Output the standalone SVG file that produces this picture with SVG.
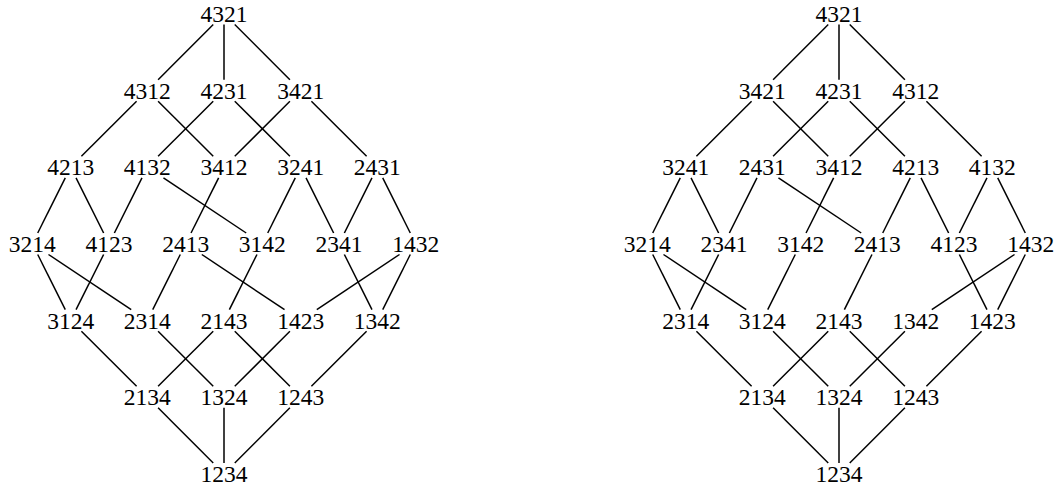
<svg xmlns="http://www.w3.org/2000/svg" width="1056" height="487" viewBox="0 0 1056 487">
<style>
.n text{font-family:"Liberation Serif","Times New Roman",serif;font-size:23.5px;fill:#000;text-anchor:middle}
.e line{stroke:#000;stroke-width:1.5;stroke-linecap:butt}
</style>
<rect width="1056" height="487" fill="#fff"/>
<g id="left">
<g id="left-connectors" class="e">
<line x1="213.25" y1="24.5" x2="158.08" y2="79.67"/>
<line x1="224" y1="24.5" x2="224" y2="79.67"/>
<line x1="234.75" y1="24.5" x2="289.92" y2="79.67"/>
<line x1="136.58" y1="101.17" x2="81.42" y2="156.33"/>
<line x1="158.08" y1="101.17" x2="213.25" y2="156.33"/>
<line x1="213.25" y1="101.17" x2="158.08" y2="156.33"/>
<line x1="234.75" y1="101.17" x2="289.92" y2="156.33"/>
<line x1="289.92" y1="101.17" x2="234.75" y2="156.33"/>
<line x1="311.42" y1="101.17" x2="366.58" y2="156.33"/>
<line x1="65.29" y1="177.83" x2="37.71" y2="233"/>
<line x1="76.04" y1="177.83" x2="103.63" y2="233"/>
<line x1="141.96" y1="177.83" x2="114.38" y2="233"/>
<line x1="163.46" y1="177.83" x2="246.21" y2="233"/>
<line x1="218.63" y1="177.83" x2="191.04" y2="233"/>
<line x1="295.29" y1="177.83" x2="267.71" y2="233"/>
<line x1="306.04" y1="177.83" x2="333.63" y2="233"/>
<line x1="371.96" y1="177.83" x2="344.38" y2="233"/>
<line x1="382.71" y1="177.83" x2="410.29" y2="233"/>
<line x1="37.71" y1="254.5" x2="65.29" y2="309.67"/>
<line x1="48.46" y1="254.5" x2="131.21" y2="309.67"/>
<line x1="103.63" y1="254.5" x2="76.04" y2="309.67"/>
<line x1="180.29" y1="254.5" x2="152.71" y2="309.67"/>
<line x1="201.79" y1="254.5" x2="284.54" y2="309.67"/>
<line x1="256.96" y1="254.5" x2="229.38" y2="309.67"/>
<line x1="344.38" y1="254.5" x2="371.96" y2="309.67"/>
<line x1="399.54" y1="254.5" x2="316.79" y2="309.67"/>
<line x1="410.29" y1="254.5" x2="382.71" y2="309.67"/>
<line x1="81.42" y1="331.17" x2="136.58" y2="386.33"/>
<line x1="158.08" y1="331.17" x2="213.25" y2="386.33"/>
<line x1="213.25" y1="331.17" x2="158.08" y2="386.33"/>
<line x1="234.75" y1="331.17" x2="289.92" y2="386.33"/>
<line x1="289.92" y1="331.17" x2="234.75" y2="386.33"/>
<line x1="366.58" y1="331.17" x2="311.42" y2="386.33"/>
<line x1="158.08" y1="407.83" x2="213.25" y2="463"/>
<line x1="224" y1="407.83" x2="224" y2="463"/>
<line x1="289.92" y1="407.83" x2="234.75" y2="463"/>
</g>
<g class="n">
<g id="L4321"><text x="224" y="22">4321</text></g>
<g id="L4312"><text x="147.33" y="98.67">4312</text></g>
<g id="L4231"><text x="224" y="98.67">4231</text></g>
<g id="L3421"><text x="300.67" y="98.67">3421</text></g>
<g id="L4213"><text x="70.67" y="175.33">4213</text></g>
<g id="L4132"><text x="147.33" y="175.33">4132</text></g>
<g id="L3412"><text x="224" y="175.33">3412</text></g>
<g id="L3241"><text x="300.67" y="175.33">3241</text></g>
<g id="L2431"><text x="377.33" y="175.33">2431</text></g>
<g id="L3214"><text x="32.33" y="252">3214</text></g>
<g id="L4123"><text x="109" y="252">4123</text></g>
<g id="L2413"><text x="185.67" y="252">2413</text></g>
<g id="L3142"><text x="262.33" y="252">3142</text></g>
<g id="L2341"><text x="339" y="252">2341</text></g>
<g id="L1432"><text x="415.67" y="252">1432</text></g>
<g id="L3124"><text x="70.67" y="328.67">3124</text></g>
<g id="L2314"><text x="147.33" y="328.67">2314</text></g>
<g id="L2143"><text x="224" y="328.67">2143</text></g>
<g id="L1423"><text x="300.67" y="328.67">1423</text></g>
<g id="L1342"><text x="377.33" y="328.67">1342</text></g>
<g id="L2134"><text x="147.33" y="405.33">2134</text></g>
<g id="L1324"><text x="224" y="405.33">1324</text></g>
<g id="L1243"><text x="300.67" y="405.33">1243</text></g>
<g id="L1234"><text x="224" y="482">1234</text></g>
</g>
</g>
<g id="right" transform="translate(615,0)">
<g id="right-connectors" class="e">
<line x1="213.25" y1="24.5" x2="158.08" y2="79.67"/>
<line x1="224" y1="24.5" x2="224" y2="79.67"/>
<line x1="234.75" y1="24.5" x2="289.92" y2="79.67"/>
<line x1="136.58" y1="101.17" x2="81.42" y2="156.33"/>
<line x1="158.08" y1="101.17" x2="213.25" y2="156.33"/>
<line x1="213.25" y1="101.17" x2="158.08" y2="156.33"/>
<line x1="234.75" y1="101.17" x2="289.92" y2="156.33"/>
<line x1="289.92" y1="101.17" x2="234.75" y2="156.33"/>
<line x1="311.42" y1="101.17" x2="366.58" y2="156.33"/>
<line x1="65.29" y1="177.83" x2="37.71" y2="233"/>
<line x1="76.04" y1="177.83" x2="103.63" y2="233"/>
<line x1="141.96" y1="177.83" x2="114.38" y2="233"/>
<line x1="163.46" y1="177.83" x2="246.21" y2="233"/>
<line x1="218.63" y1="177.83" x2="191.04" y2="233"/>
<line x1="295.29" y1="177.83" x2="267.71" y2="233"/>
<line x1="306.04" y1="177.83" x2="333.63" y2="233"/>
<line x1="371.96" y1="177.83" x2="344.38" y2="233"/>
<line x1="382.71" y1="177.83" x2="410.29" y2="233"/>
<line x1="37.71" y1="254.5" x2="65.29" y2="309.67"/>
<line x1="48.46" y1="254.5" x2="131.21" y2="309.67"/>
<line x1="103.63" y1="254.5" x2="76.04" y2="309.67"/>
<line x1="180.29" y1="254.5" x2="152.71" y2="309.67"/>
<line x1="256.96" y1="254.5" x2="229.38" y2="309.67"/>
<line x1="344.38" y1="254.5" x2="371.96" y2="309.67"/>
<line x1="399.54" y1="254.5" x2="316.79" y2="309.67"/>
<line x1="410.29" y1="254.5" x2="382.71" y2="309.67"/>
<line x1="81.42" y1="331.17" x2="136.58" y2="386.33"/>
<line x1="158.08" y1="331.17" x2="213.25" y2="386.33"/>
<line x1="213.25" y1="331.17" x2="158.08" y2="386.33"/>
<line x1="234.75" y1="331.17" x2="289.92" y2="386.33"/>
<line x1="289.92" y1="331.17" x2="234.75" y2="386.33"/>
<line x1="366.58" y1="331.17" x2="311.42" y2="386.33"/>
<line x1="158.08" y1="407.83" x2="213.25" y2="463"/>
<line x1="224" y1="407.83" x2="224" y2="463"/>
<line x1="289.92" y1="407.83" x2="234.75" y2="463"/>
</g>
<g class="n">
<g id="R4321"><text x="224" y="22">4321</text></g>
<g id="R3421"><text x="147.33" y="98.67">3421</text></g>
<g id="R4231"><text x="224" y="98.67">4231</text></g>
<g id="R4312"><text x="300.67" y="98.67">4312</text></g>
<g id="R3241"><text x="70.67" y="175.33">3241</text></g>
<g id="R2431"><text x="147.33" y="175.33">2431</text></g>
<g id="R3412"><text x="224" y="175.33">3412</text></g>
<g id="R4213"><text x="300.67" y="175.33">4213</text></g>
<g id="R4132"><text x="377.33" y="175.33">4132</text></g>
<g id="R3214"><text x="32.33" y="252">3214</text></g>
<g id="R2341"><text x="109" y="252">2341</text></g>
<g id="R3142"><text x="185.67" y="252">3142</text></g>
<g id="R2413"><text x="262.33" y="252">2413</text></g>
<g id="R4123"><text x="339" y="252">4123</text></g>
<g id="R1432"><text x="415.67" y="252">1432</text></g>
<g id="R2314"><text x="70.67" y="328.67">2314</text></g>
<g id="R3124"><text x="147.33" y="328.67">3124</text></g>
<g id="R2143"><text x="224" y="328.67">2143</text></g>
<g id="R1342"><text x="300.67" y="328.67">1342</text></g>
<g id="R1423"><text x="377.33" y="328.67">1423</text></g>
<g id="R2134"><text x="147.33" y="405.33">2134</text></g>
<g id="R1324"><text x="224" y="405.33">1324</text></g>
<g id="R1243"><text x="300.67" y="405.33">1243</text></g>
<g id="R1234"><text x="224" y="482">1234</text></g>
</g>
</g>
</svg>
